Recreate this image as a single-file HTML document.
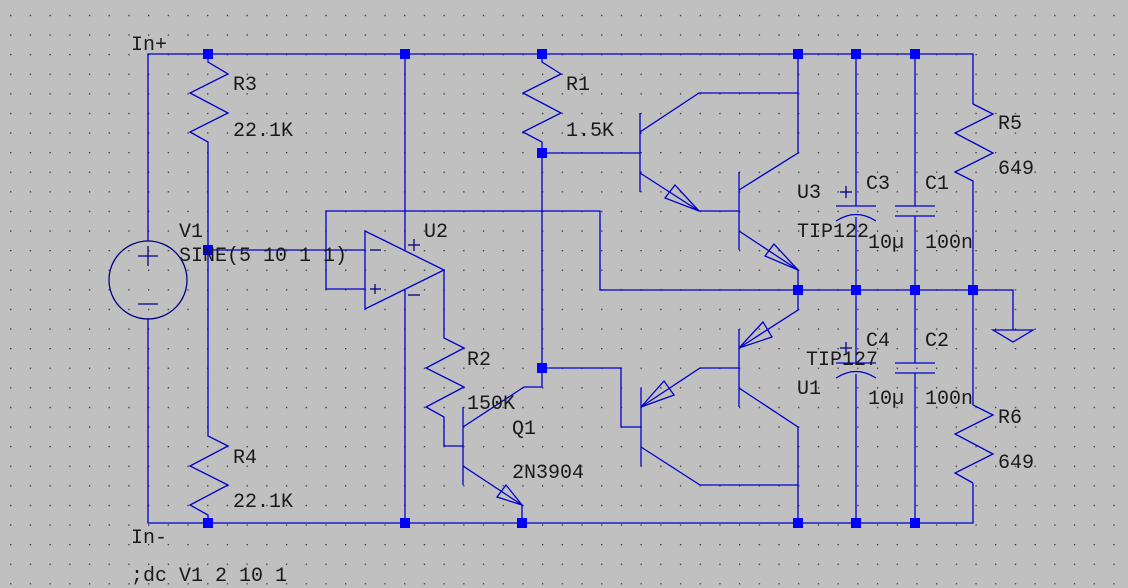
<!DOCTYPE html>
<html><head><meta charset="utf-8"><style>
html,body{margin:0;padding:0;background:#c0c0c0;}
svg{display:block}
text{font-family:"Liberation Mono",monospace;font-size:20px;fill:#1a1a1a;}
</style></head><body>
<svg width="1128" height="588" viewBox="0 0 1128 588" xmlns="http://www.w3.org/2000/svg">
<defs>
<pattern id="g" x="148" y="54" width="19.7" height="19.6" patternUnits="userSpaceOnUse">
<rect x="0" y="0" width="1.3" height="1.3" fill="#333"/>
</pattern>
</defs>
<rect width="1128" height="588" fill="#c0c0c0"/>
<rect width="1128" height="588" fill="url(#g)"/>
<g stroke="#0000cc" stroke-width="1.3" fill="none">
<polyline points="148,241 148,54 973,54 973,104"/>
<polyline points="148,318 148,523 973,523 973,483"/>
<circle cx="148" cy="280" r="39" stroke="#000080"/>
<polyline points="208,54 208,62 228,74 190,93 228,113 190,132 208,142 208,436 228,446 190,466 228,485 190,505 208,515 208,523"/>
<polyline points="208,250 365,250"/>
<polygon points="365,231 365,309 444,270"/>
<polyline points="365,289 326,289 326,211 600,211 600,290 973,290"/>
<polyline points="405,54 405,250"/>
<polyline points="405,290 405,523"/>
<polyline points="444,270 444,338 464,348 426,368 464,387 426,407 444,417 444,446 463,446"/>
<line x1="463" y1="407" x2="463" y2="485"/>
<polyline points="463,427 524,387 542,387 542,368"/>
<polyline points="463,466 522,505 522,523"/>
<polygon points="522,505 497,497 506,485"/>
<polyline points="542,54 542,62 561,74 523,93 561,113 523,132 542,142 542,368"/>
<polyline points="542,153 640,153"/>
<line x1="640" y1="113" x2="640" y2="192"/>
<polyline points="640,132 699,93 798,93"/>
<polyline points="640,173 699,211 739,211"/>
<polygon points="699,211 665,198 675,185"/>
<line x1="739" y1="172" x2="739" y2="250"/>
<polyline points="739,190 798,153 798,54"/>
<polyline points="739,231 798,270 798,290"/>
<polygon points="798,270 765,256 774,244"/>
<polyline points="542,368 621,368 621,427 641,427"/>
<line x1="641" y1="388" x2="641" y2="466"/>
<polyline points="641,407 700,368 739,368"/>
<polygon points="641,407 664,381 674,395"/>
<line x1="739" y1="329" x2="739" y2="407"/>
<polyline points="739,348 798,310 798,290"/>
<polygon points="739,348 763,322 772,337"/>
<polyline points="739,388 798,427 798,523"/>
<polyline points="641,447 700,485 798,485"/>
<polyline points="856,54 856,206"/>
<line x1="836" y1="206" x2="876" y2="206"/>
<path d="M836,221 Q856,208 876,221"/>
<polyline points="856,217 856,290 856,363"/>
<line x1="836" y1="363" x2="876" y2="363"/>
<path d="M836,378 Q856,365 876,378"/>
<line x1="856" y1="374" x2="856" y2="523"/>
<line x1="915" y1="54" x2="915" y2="206"/>
<line x1="895" y1="206" x2="935" y2="206"/>
<line x1="895" y1="216" x2="935" y2="216"/>
<line x1="915" y1="216" x2="915" y2="363"/>
<line x1="895" y1="363" x2="935" y2="363"/>
<line x1="895" y1="373" x2="935" y2="373"/>
<line x1="915" y1="373" x2="915" y2="523"/>
<polyline points="973,104 993,114 955,133 993,153 955,172 973,181 973,405 993,415 955,434 993,454 955,473 973,483"/>
<polyline points="973,290 1013,290 1013,330"/>
<polygon points="993,330 1033,330 1013,342"/>
</g>
<g stroke="#000080" stroke-width="1.3">
<line x1="138" y1="256" x2="158" y2="256"/><line x1="148" y1="246" x2="148" y2="266"/>
<line x1="138" y1="304" x2="158" y2="304"/>
<line x1="408" y1="245" x2="420" y2="245"/><line x1="414" y1="239" x2="414" y2="251"/>
<line x1="408" y1="295" x2="420" y2="295"/>
<line x1="370" y1="250" x2="381" y2="250"/>
<line x1="370" y1="289" x2="381" y2="289"/><line x1="375" y1="284" x2="375" y2="294"/>
<line x1="840" y1="192" x2="852" y2="192"/><line x1="846" y1="186" x2="846" y2="198"/>
<line x1="840" y1="348" x2="852" y2="348"/><line x1="846" y1="342" x2="846" y2="354"/>
</g>
<g fill="#0000ff">
<rect x="203" y="49" width="10" height="10"/><rect x="400" y="49" width="10" height="10"/>
<rect x="537" y="49" width="10" height="10"/><rect x="793" y="49" width="10" height="10"/>
<rect x="851" y="49" width="10" height="10"/><rect x="910" y="49" width="10" height="10"/>
<rect x="203" y="245" width="10" height="10"/><rect x="537" y="148" width="10" height="10"/>
<rect x="537" y="363" width="10" height="10"/>
<rect x="793" y="285" width="10" height="10"/><rect x="851" y="285" width="10" height="10"/>
<rect x="910" y="285" width="10" height="10"/><rect x="968" y="285" width="10" height="10"/>
<rect x="203" y="518" width="10" height="10"/><rect x="400" y="518" width="10" height="10"/>
<rect x="517" y="518" width="10" height="10"/><rect x="793" y="518" width="10" height="10"/>
<rect x="851" y="518" width="10" height="10"/><rect x="910" y="518" width="10" height="10"/>
</g>
<text x="131" y="50">In+</text>
<text x="131" y="543">In-</text>
<text x="131" y="581">;dc V1 2 10 1</text>
<text x="233" y="90">R3</text><text x="233" y="136">22.1K</text>
<text x="233" y="463">R4</text><text x="233" y="507">22.1K</text>
<text x="179" y="237">V1</text><text x="179" y="261">SINE(5 10 1 1)</text>
<text x="424" y="237">U2</text>
<text x="566" y="90">R1</text><text x="566" y="136">1.5K</text>
<text x="467" y="365">R2</text><text x="467" y="409">150K</text>
<text x="512" y="434">Q1</text><text x="512" y="478">2N3904</text>
<text x="797" y="198">U3</text><text x="797" y="237">TIP122</text>
<text x="866" y="189">C3</text><text x="925" y="189">C1</text>
<text x="868" y="248">10µ</text><text x="925" y="248">100n</text>
<text x="998" y="129">R5</text><text x="998" y="174">649</text>
<text x="866" y="346">C4</text><text x="925" y="346">C2</text>
<text x="806" y="365">TIP127</text><text x="797" y="394">U1</text>
<text x="868" y="404">10µ</text><text x="925" y="404">100n</text>
<text x="998" y="423">R6</text><text x="998" y="468">649</text>
</svg>
</body></html>
